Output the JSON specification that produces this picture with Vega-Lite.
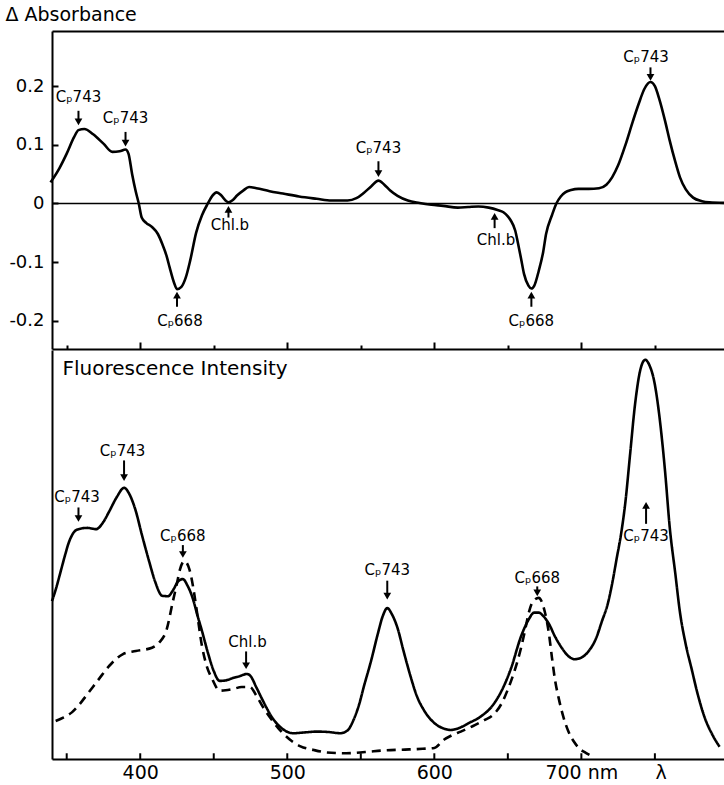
{
  "$schema": "https://vega.github.io/schema/vega-lite/v6.json",
  "padding": {"left": 5, "top": 5, "right": 0, "bottom": 0},
  "spacing": 0,
  "background": "white",
  "config": {
    "view": {"stroke": null},
    "font": "DejaVu Sans",
    "axis": {"domainColor": "black", "domainWidth": 2, "tickColor": "black", "tickWidth": 2, "labelColor": "black", "titleColor": "black", "grid": false, "labelFontWeight": "normal", "titleFontWeight": "normal"}
  },
  "datasets": {
    "absorbance": [
      {"wl": 339, "dA": 0.036}, {"wl": 345, "dA": 0.06}, {"wl": 350, "dA": 0.085}, {"wl": 355, "dA": 0.113},
      {"wl": 358, "dA": 0.125}, {"wl": 362, "dA": 0.127}, {"wl": 368, "dA": 0.118}, {"wl": 375, "dA": 0.102},
      {"wl": 381, "dA": 0.088}, {"wl": 386, "dA": 0.089}, {"wl": 390, "dA": 0.092}, {"wl": 392, "dA": 0.085},
      {"wl": 394.5, "dA": 0.05}, {"wl": 397, "dA": 0.02}, {"wl": 399, "dA": 0.0}, {"wl": 401, "dA": -0.024},
      {"wl": 404, "dA": -0.033}, {"wl": 408, "dA": -0.04}, {"wl": 412, "dA": -0.052}, {"wl": 415, "dA": -0.069},
      {"wl": 418, "dA": -0.09}, {"wl": 420, "dA": -0.109}, {"wl": 423, "dA": -0.135}, {"wl": 425, "dA": -0.146},
      {"wl": 428, "dA": -0.142}, {"wl": 431, "dA": -0.126}, {"wl": 434, "dA": -0.097}, {"wl": 438, "dA": -0.05},
      {"wl": 442, "dA": -0.02}, {"wl": 446, "dA": 0.0}, {"wl": 449, "dA": 0.013}, {"wl": 452, "dA": 0.019},
      {"wl": 455, "dA": 0.014}, {"wl": 458, "dA": 0.005}, {"wl": 460, "dA": 0.002}, {"wl": 463, "dA": 0.006},
      {"wl": 466, "dA": 0.014}, {"wl": 470, "dA": 0.022}, {"wl": 474, "dA": 0.028}, {"wl": 479, "dA": 0.026},
      {"wl": 488, "dA": 0.021}, {"wl": 497, "dA": 0.017}, {"wl": 508, "dA": 0.012}, {"wl": 520, "dA": 0.008},
      {"wl": 530, "dA": 0.005}, {"wl": 541, "dA": 0.005}, {"wl": 547, "dA": 0.009}, {"wl": 552, "dA": 0.018},
      {"wl": 557, "dA": 0.029}, {"wl": 562, "dA": 0.039}, {"wl": 566, "dA": 0.032}, {"wl": 570, "dA": 0.022},
      {"wl": 575, "dA": 0.013}, {"wl": 582, "dA": 0.005}, {"wl": 590, "dA": 0.001}, {"wl": 598, "dA": -0.002},
      {"wl": 606, "dA": -0.004}, {"wl": 616, "dA": -0.007}, {"wl": 623, "dA": -0.006}, {"wl": 630, "dA": -0.005},
      {"wl": 637, "dA": -0.007}, {"wl": 643, "dA": -0.011}, {"wl": 647, "dA": -0.015}, {"wl": 650, "dA": -0.022},
      {"wl": 652, "dA": -0.029}, {"wl": 655, "dA": -0.046}, {"wl": 657, "dA": -0.069}, {"wl": 659, "dA": -0.094},
      {"wl": 661, "dA": -0.12}, {"wl": 664, "dA": -0.14}, {"wl": 666, "dA": -0.145}, {"wl": 668, "dA": -0.14},
      {"wl": 671, "dA": -0.115}, {"wl": 674, "dA": -0.083}, {"wl": 676, "dA": -0.052}, {"wl": 680, "dA": -0.02},
      {"wl": 683, "dA": 0.0}, {"wl": 686, "dA": 0.012}, {"wl": 689, "dA": 0.019}, {"wl": 693, "dA": 0.023},
      {"wl": 698, "dA": 0.025}, {"wl": 705, "dA": 0.025}, {"wl": 712, "dA": 0.026}, {"wl": 717, "dA": 0.032},
      {"wl": 721, "dA": 0.045}, {"wl": 725, "dA": 0.065}, {"wl": 730, "dA": 0.1}, {"wl": 735, "dA": 0.14},
      {"wl": 739, "dA": 0.17}, {"wl": 743, "dA": 0.196}, {"wl": 747, "dA": 0.207}, {"wl": 750, "dA": 0.2},
      {"wl": 753, "dA": 0.178}, {"wl": 757, "dA": 0.14}, {"wl": 760, "dA": 0.108}, {"wl": 764, "dA": 0.07},
      {"wl": 767, "dA": 0.045}, {"wl": 771, "dA": 0.024}, {"wl": 776, "dA": 0.01}, {"wl": 782, "dA": 0.004},
      {"wl": 787, "dA": 0.002}, {"wl": 797, "dA": 0.001}
    ],
    "fluorescence": [
      {"wl": 340, "F": 38.6, "curve": "solid"}, {"wl": 343, "F": 42, "curve": "solid"}, {"wl": 346, "F": 46, "curve": "solid"},
      {"wl": 349, "F": 50, "curve": "solid"}, {"wl": 351.5, "F": 53, "curve": "solid"}, {"wl": 355, "F": 55.5, "curve": "solid"},
      {"wl": 358, "F": 56.2, "curve": "solid"}, {"wl": 364, "F": 56.5, "curve": "solid"}, {"wl": 370, "F": 56.2, "curve": "solid"},
      {"wl": 375, "F": 58, "curve": "solid"}, {"wl": 379, "F": 60.6, "curve": "solid"}, {"wl": 384, "F": 64, "curve": "solid"},
      {"wl": 389, "F": 66.3, "curve": "solid"}, {"wl": 393, "F": 64.5, "curve": "solid"}, {"wl": 397, "F": 60.6, "curve": "solid"},
      {"wl": 401, "F": 55, "curve": "solid"}, {"wl": 406, "F": 48.4, "curve": "solid"}, {"wl": 410, "F": 43.5, "curve": "solid"},
      {"wl": 415, "F": 39.9, "curve": "solid"}, {"wl": 419, "F": 39.8, "curve": "solid"}, {"wl": 422, "F": 41.1, "curve": "solid"},
      {"wl": 426, "F": 43.5, "curve": "solid"}, {"wl": 429, "F": 44, "curve": "solid"}, {"wl": 432, "F": 42.5, "curve": "solid"},
      {"wl": 435.6, "F": 39.4, "curve": "solid"}, {"wl": 439, "F": 35, "curve": "solid"}, {"wl": 442, "F": 31.3, "curve": "solid"},
      {"wl": 446, "F": 26, "curve": "solid"}, {"wl": 450, "F": 21.5, "curve": "solid"}, {"wl": 454, "F": 19.1, "curve": "solid"},
      {"wl": 458, "F": 19.2, "curve": "solid"}, {"wl": 463, "F": 19.8, "curve": "solid"}, {"wl": 468, "F": 20.3, "curve": "solid"},
      {"wl": 472.5, "F": 20.8, "curve": "solid"}, {"wl": 475, "F": 20.3, "curve": "solid"}, {"wl": 479, "F": 17.5, "curve": "solid"},
      {"wl": 483.5, "F": 14.2, "curve": "solid"}, {"wl": 490, "F": 10, "curve": "solid"}, {"wl": 497, "F": 7.3, "curve": "solid"},
      {"wl": 504, "F": 6.3, "curve": "solid"}, {"wl": 512, "F": 6.5, "curve": "solid"}, {"wl": 520, "F": 6.7, "curve": "solid"},
      {"wl": 528, "F": 6.6, "curve": "solid"}, {"wl": 536, "F": 6.3, "curve": "solid"}, {"wl": 541, "F": 7, "curve": "solid"},
      {"wl": 545, "F": 9.5, "curve": "solid"}, {"wl": 549, "F": 13.5, "curve": "solid"}, {"wl": 552, "F": 17.6, "curve": "solid"},
      {"wl": 557, "F": 24, "curve": "solid"}, {"wl": 561.5, "F": 30.5, "curve": "solid"}, {"wl": 565, "F": 35, "curve": "solid"},
      {"wl": 568, "F": 36.9, "curve": "solid"}, {"wl": 571, "F": 35.5, "curve": "solid"}, {"wl": 575, "F": 32, "curve": "solid"},
      {"wl": 579, "F": 26.5, "curve": "solid"}, {"wl": 584, "F": 20, "curve": "solid"}, {"wl": 588, "F": 15.5, "curve": "solid"},
      {"wl": 593, "F": 11.9, "curve": "solid"}, {"wl": 600, "F": 8.8, "curve": "solid"}, {"wl": 606, "F": 7.5, "curve": "solid"},
      {"wl": 611, "F": 7.1, "curve": "solid"}, {"wl": 617, "F": 7.6, "curve": "solid"}, {"wl": 623, "F": 8.7, "curve": "solid"},
      {"wl": 632, "F": 10.5, "curve": "solid"}, {"wl": 639, "F": 12.8, "curve": "solid"}, {"wl": 645.5, "F": 16.5, "curve": "solid"},
      {"wl": 652, "F": 22, "curve": "solid"}, {"wl": 659, "F": 30, "curve": "solid"}, {"wl": 664, "F": 34, "curve": "solid"},
      {"wl": 668, "F": 35.8, "curve": "solid"}, {"wl": 671, "F": 35.8, "curve": "solid"}, {"wl": 674, "F": 35, "curve": "solid"},
      {"wl": 678, "F": 33, "curve": "solid"}, {"wl": 682, "F": 30, "curve": "solid"}, {"wl": 687, "F": 27, "curve": "solid"},
      {"wl": 691, "F": 25.2, "curve": "solid"}, {"wl": 695.5, "F": 24.4, "curve": "solid"}, {"wl": 700, "F": 24.8, "curve": "solid"},
      {"wl": 705, "F": 26.4, "curve": "solid"}, {"wl": 710, "F": 29.5, "curve": "solid"}, {"wl": 714, "F": 33.7, "curve": "solid"},
      {"wl": 718, "F": 38, "curve": "solid"}, {"wl": 721, "F": 43, "curve": "solid"}, {"wl": 724, "F": 49, "curve": "solid"},
      {"wl": 727, "F": 55, "curve": "solid"}, {"wl": 730, "F": 63, "curve": "solid"}, {"wl": 733, "F": 74, "curve": "solid"},
      {"wl": 736.6, "F": 87, "curve": "solid"}, {"wl": 740, "F": 95, "curve": "solid"}, {"wl": 743.4, "F": 97.6, "curve": "solid"},
      {"wl": 746, "F": 96.5, "curve": "solid"}, {"wl": 750, "F": 91.5, "curve": "solid"}, {"wl": 753, "F": 84, "curve": "solid"},
      {"wl": 757, "F": 70, "curve": "solid"}, {"wl": 760, "F": 57, "curve": "solid"}, {"wl": 764, "F": 45, "curve": "solid"},
      {"wl": 767, "F": 36, "curve": "solid"}, {"wl": 771, "F": 28, "curve": "solid"}, {"wl": 775, "F": 22, "curve": "solid"},
      {"wl": 779, "F": 16, "curve": "solid"}, {"wl": 784, "F": 10, "curve": "solid"}, {"wl": 789, "F": 6, "curve": "solid"},
      {"wl": 794, "F": 3, "curve": "solid"},
      {"wl": 342.5, "F": 9.3, "curve": "dashed"}, {"wl": 348, "F": 10.2, "curve": "dashed"}, {"wl": 353.5, "F": 11.4, "curve": "dashed"},
      {"wl": 359, "F": 13.5, "curve": "dashed"}, {"wl": 365, "F": 16.3, "curve": "dashed"}, {"wl": 372, "F": 19.6, "curve": "dashed"},
      {"wl": 379, "F": 22.8, "curve": "dashed"}, {"wl": 388, "F": 25.6, "curve": "dashed"}, {"wl": 397, "F": 26.4, "curve": "dashed"},
      {"wl": 408, "F": 27.2, "curve": "dashed"}, {"wl": 413, "F": 28.5, "curve": "dashed"}, {"wl": 418, "F": 31.7, "curve": "dashed"},
      {"wl": 422, "F": 38.2, "curve": "dashed"}, {"wl": 425, "F": 43, "curve": "dashed"}, {"wl": 427, "F": 46.3, "curve": "dashed"},
      {"wl": 430, "F": 48.4, "curve": "dashed"}, {"wl": 433.5, "F": 46.3, "curve": "dashed"}, {"wl": 436, "F": 42, "curve": "dashed"},
      {"wl": 438, "F": 37.4, "curve": "dashed"}, {"wl": 442, "F": 27.6, "curve": "dashed"}, {"wl": 445, "F": 23, "curve": "dashed"},
      {"wl": 449, "F": 19.5, "curve": "dashed"}, {"wl": 454, "F": 16.7, "curve": "dashed"}, {"wl": 458, "F": 16.8, "curve": "dashed"},
      {"wl": 463, "F": 17.1, "curve": "dashed"}, {"wl": 469, "F": 17.6, "curve": "dashed"}, {"wl": 474.6, "F": 17.6, "curve": "dashed"},
      {"wl": 479, "F": 15.5, "curve": "dashed"}, {"wl": 483.5, "F": 12.7, "curve": "dashed"}, {"wl": 490, "F": 9.3, "curve": "dashed"},
      {"wl": 497, "F": 6.3, "curve": "dashed"}, {"wl": 503, "F": 4.4, "curve": "dashed"}, {"wl": 509, "F": 3.1, "curve": "dashed"},
      {"wl": 518, "F": 2.2, "curve": "dashed"}, {"wl": 527, "F": 1.6, "curve": "dashed"}, {"wl": 540, "F": 1.4, "curve": "dashed"},
      {"wl": 553, "F": 1.7, "curve": "dashed"}, {"wl": 566, "F": 2.1, "curve": "dashed"}, {"wl": 580, "F": 2.3, "curve": "dashed"},
      {"wl": 592, "F": 2.5, "curve": "dashed"}, {"wl": 600, "F": 2.7, "curve": "dashed"}, {"wl": 606.5, "F": 4.7, "curve": "dashed"},
      {"wl": 612, "F": 5.8, "curve": "dashed"}, {"wl": 618, "F": 6.7, "curve": "dashed"}, {"wl": 626, "F": 8, "curve": "dashed"},
      {"wl": 634, "F": 9.5, "curve": "dashed"}, {"wl": 640, "F": 10.8, "curve": "dashed"}, {"wl": 645.5, "F": 13.4, "curve": "dashed"},
      {"wl": 650, "F": 17, "curve": "dashed"}, {"wl": 654.5, "F": 21.5, "curve": "dashed"}, {"wl": 659, "F": 27.2, "curve": "dashed"},
      {"wl": 662, "F": 32, "curve": "dashed"}, {"wl": 664, "F": 35.4, "curve": "dashed"}, {"wl": 667, "F": 38.5, "curve": "dashed"},
      {"wl": 671, "F": 39.4, "curve": "dashed"}, {"wl": 673, "F": 38.5, "curve": "dashed"}, {"wl": 675, "F": 36.2, "curve": "dashed"},
      {"wl": 678, "F": 30.5, "curve": "dashed"}, {"wl": 680, "F": 24.8, "curve": "dashed"}, {"wl": 682, "F": 19.5, "curve": "dashed"},
      {"wl": 684.5, "F": 15, "curve": "dashed"}, {"wl": 688, "F": 10, "curve": "dashed"}, {"wl": 691, "F": 6.9, "curve": "dashed"},
      {"wl": 695, "F": 4.2, "curve": "dashed"}, {"wl": 698, "F": 2.8, "curve": "dashed"}, {"wl": 703, "F": 1.5, "curve": "dashed"},
      {"wl": 709, "F": 0.4, "curve": "dashed"}
    ],
    "absLabels": [
      {"label": "Cₚ743", "lx": 358, "ly": 0.182, "ax": 358, "tail": 0.158, "head": 0.139, "dir": "down"},
      {"label": "Cₚ743", "lx": 390, "ly": 0.146, "ax": 390, "tail": 0.122, "head": 0.103, "dir": "down"},
      {"label": "Cₚ743", "lx": 562, "ly": 0.095, "ax": 562, "tail": 0.072, "head": 0.051, "dir": "down"},
      {"label": "Cₚ743", "lx": 744, "ly": 0.25, "ax": 747, "tail": 0.232, "head": 0.215, "dir": "down"},
      {"label": "Cₚ668", "lx": 427, "ly": -0.2, "ax": 425, "tail": -0.176, "head": -0.156, "dir": "up"},
      {"label": "Chl.b", "lx": 461, "ly": -0.036, "ax": 460, "tail": -0.024, "head": -0.01, "dir": "up"},
      {"label": "Chl.b", "lx": 642, "ly": -0.063, "ax": 641, "tail": -0.042, "head": -0.022, "dir": "up"},
      {"label": "Cₚ668", "lx": 666, "ly": -0.2, "ax": 666, "tail": -0.176, "head": -0.156, "dir": "up"}
    ],
    "fluoLabels": [
      {"label": "Cₚ743", "lx": 357, "ly": 64, "ax": 358, "tail": 61.5, "head": 58.8, "dir": "down"},
      {"label": "Cₚ743", "lx": 388, "ly": 75.2, "ax": 389, "tail": 73, "head": 68.8, "dir": "down"},
      {"label": "Cₚ668", "lx": 429, "ly": 54.5, "ax": 429, "tail": 52.3, "head": 50, "dir": "down"},
      {"label": "Chl.b", "lx": 473, "ly": 28.5, "ax": 472, "tail": 26.3, "head": 22.8, "dir": "down"},
      {"label": "Cₚ743", "lx": 568, "ly": 46.2, "ax": 568, "tail": 43.6, "head": 39.8, "dir": "down"},
      {"label": "Cₚ668", "lx": 670, "ly": 44.2, "ax": 670, "tail": 42.2, "head": 40.6, "dir": "down"},
      {"label": "Cₚ743", "lx": 744, "ly": 54.5, "ax": 744, "tail": 57.5, "head": 62, "dir": "up"}
    ],
    "wlTicks": [
      {"wl": 350}, {"wl": 400}, {"wl": 450}, {"wl": 500}, {"wl": 550}, {"wl": 600}, {"wl": 650}, {"wl": 700}, {"wl": 750}
    ]
  },
  "vconcat": [
    {
      "width": 672,
      "height": 318,
      "resolve": {"axis": {"x": "independent", "y": "independent"}},
      "layer": [
        {
          "data": {"values": [{"base": 0}]},
          "mark": {"type": "rule", "color": "black", "strokeWidth": 1.5},
          "encoding": {
            "x": {"datum": 340, "type": "quantitative", "scale": {"domain": [340, 797], "nice": false, "zero": false},
                  "axis": {"orient": "top", "ticks": false, "labels": false, "title": null}},
            "x2": {"datum": 797},
            "y": {"field": "base", "type": "quantitative", "scale": {"domain": [-0.248, 0.294], "nice": false, "zero": false}, "axis": null}
          }
        },
        {
          "data": {"name": "absorbance"},
          "mark": {"type": "line", "color": "black", "strokeWidth": 2.6, "interpolate": "monotone"},
          "encoding": {
            "x": {"field": "wl", "type": "quantitative", "scale": {"domain": [340, 797], "nice": false, "zero": false},
                  "axis": {"orient": "bottom", "values": [350, 400, 450, 500, 550, 600, 650, 700, 750], "labels": false, "title": null,
                           "tickSize": {"condition": {"test": "datum.value % 100 === 0", "value": -7}, "value": -4}}},
            "y": {"field": "dA", "type": "quantitative",
                  "axis": {"values": [-0.2, -0.1, 0, 0.1, 0.2], "tickSize": {"condition": {"test": "true", "value": -6}, "value": -6},
                           "labelExpr": "datum.value == 0 ? '0' : (datum.value < 0 ? '-' + format(-datum.value, '.1f') : format(datum.value, '.1f'))",
                           "labelFontSize": 18, "labelPadding": 14,
                           "title": "Δ Absorbance", "titleAngle": 0, "titleAlign": "left", "titleBaseline": "middle",
                           "titleX": -47, "titleY": -17, "titleFontSize": 19}}
          }
        },
        {
          "data": {"name": "absLabels"},
          "mark": {"type": "rule", "color": "black", "strokeWidth": 2},
          "encoding": {
            "x": {"field": "ax", "type": "quantitative", "axis": null},
            "y": {"field": "tail", "type": "quantitative", "axis": null},
            "y2": {"field": "head"}
          }
        },
        {
          "data": {"name": "absLabels"},
          "transform": [{"filter": "datum.dir == 'down'"}],
          "mark": {"type": "point", "shape": "triangle-down", "filled": true, "color": "black", "size": 60, "opacity": 1},
          "encoding": {
            "x": {"field": "ax", "type": "quantitative", "axis": null},
            "y": {"field": "head", "type": "quantitative", "axis": null}
          }
        },
        {
          "data": {"name": "absLabels"},
          "transform": [{"filter": "datum.dir == 'up'"}],
          "mark": {"type": "point", "shape": "triangle-up", "filled": true, "color": "black", "size": 60, "opacity": 1},
          "encoding": {
            "x": {"field": "ax", "type": "quantitative", "axis": null},
            "y": {"field": "head", "type": "quantitative", "axis": null}
          }
        },
        {
          "data": {"name": "absLabels"},
          "mark": {"type": "text", "color": "black", "fontSize": 15, "baseline": "middle", "align": "center"},
          "encoding": {
            "x": {"field": "lx", "type": "quantitative", "axis": null},
            "y": {"field": "ly", "type": "quantitative", "axis": null},
            "text": {"field": "label"}
          }
        }
      ]
    },
    {
      "width": 672,
      "height": 409,
      "resolve": {"axis": {"x": "independent", "y": "independent"}},
      "layer": [
        {
          "data": {"name": "fluorescence"},
          "mark": {"type": "line", "color": "black", "strokeWidth": 2.6, "interpolate": "monotone"},
          "encoding": {
            "x": {"field": "wl", "type": "quantitative", "scale": {"domain": [340, 797], "nice": false, "zero": false},
                  "axis": {"orient": "bottom", "values": [350, 400, 450, 500, 550, 600, 650, 700, 750], "title": null,
                           "ticks": false,
                           "labelExpr": "datum.value == 700 ? '\u00a0\u00a0\u00a0\u00a0\u00a0\u00a0700 nm' : (datum.value == 750 ? 'λ' : (datum.value % 100 == 0 ? format(datum.value, 'd') : ''))",
                           "labelAlign": {"condition": {"test": "datum.value == 750", "value": "left"}, "value": "center"},
                           "labelFontSize": 19, "labelPadding": 4, "labelOverlap": false, "labelFlush": false, "labelBound": false}},
            "y": {"field": "F", "type": "quantitative", "scale": {"domain": [0, 100], "nice": false, "zero": false},
                  "axis": {"ticks": false, "labels": false, "title": "Fluorescence Intensity", "titleAngle": 0,
                           "titleAlign": "left", "titleBaseline": "middle", "titleX": 10, "titleY": 18, "titleFontSize": 20}},
            "detail": {"field": "curve"},
            "strokeDash": {"field": "curve", "type": "nominal", "legend": null,
                           "scale": {"domain": ["solid", "dashed"], "range": [[1, 0], [9, 6]]}}
          }
        },
        {
          "data": {"name": "wlTicks"},
          "mark": {"type": "rule", "color": "black", "strokeWidth": 2},
          "encoding": {
            "x": {"field": "wl", "type": "quantitative", "axis": null},
            "y": {"datum": 0, "type": "quantitative", "axis": null},
            "y2": {"datum": 1.4}
          }
        },
        {
          "data": {"name": "fluoLabels"},
          "mark": {"type": "rule", "color": "black", "strokeWidth": 2},
          "encoding": {
            "x": {"field": "ax", "type": "quantitative", "axis": null},
            "y": {"field": "tail", "type": "quantitative", "axis": null},
            "y2": {"field": "head"}
          }
        },
        {
          "data": {"name": "fluoLabels"},
          "transform": [{"filter": "datum.dir == 'down'"}],
          "mark": {"type": "point", "shape": "triangle-down", "filled": true, "color": "black", "size": 60, "opacity": 1},
          "encoding": {
            "x": {"field": "ax", "type": "quantitative", "axis": null},
            "y": {"field": "head", "type": "quantitative", "axis": null}
          }
        },
        {
          "data": {"name": "fluoLabels"},
          "transform": [{"filter": "datum.dir == 'up'"}],
          "mark": {"type": "point", "shape": "triangle-up", "filled": true, "color": "black", "size": 60, "opacity": 1},
          "encoding": {
            "x": {"field": "ax", "type": "quantitative", "axis": null},
            "y": {"field": "head", "type": "quantitative", "axis": null}
          }
        },
        {
          "data": {"name": "fluoLabels"},
          "mark": {"type": "text", "color": "black", "fontSize": 15, "baseline": "middle", "align": "center"},
          "encoding": {
            "x": {"field": "lx", "type": "quantitative", "axis": null},
            "y": {"field": "ly", "type": "quantitative", "axis": null},
            "text": {"field": "label"}
          }
        }
      ]
    }
  ]
}
